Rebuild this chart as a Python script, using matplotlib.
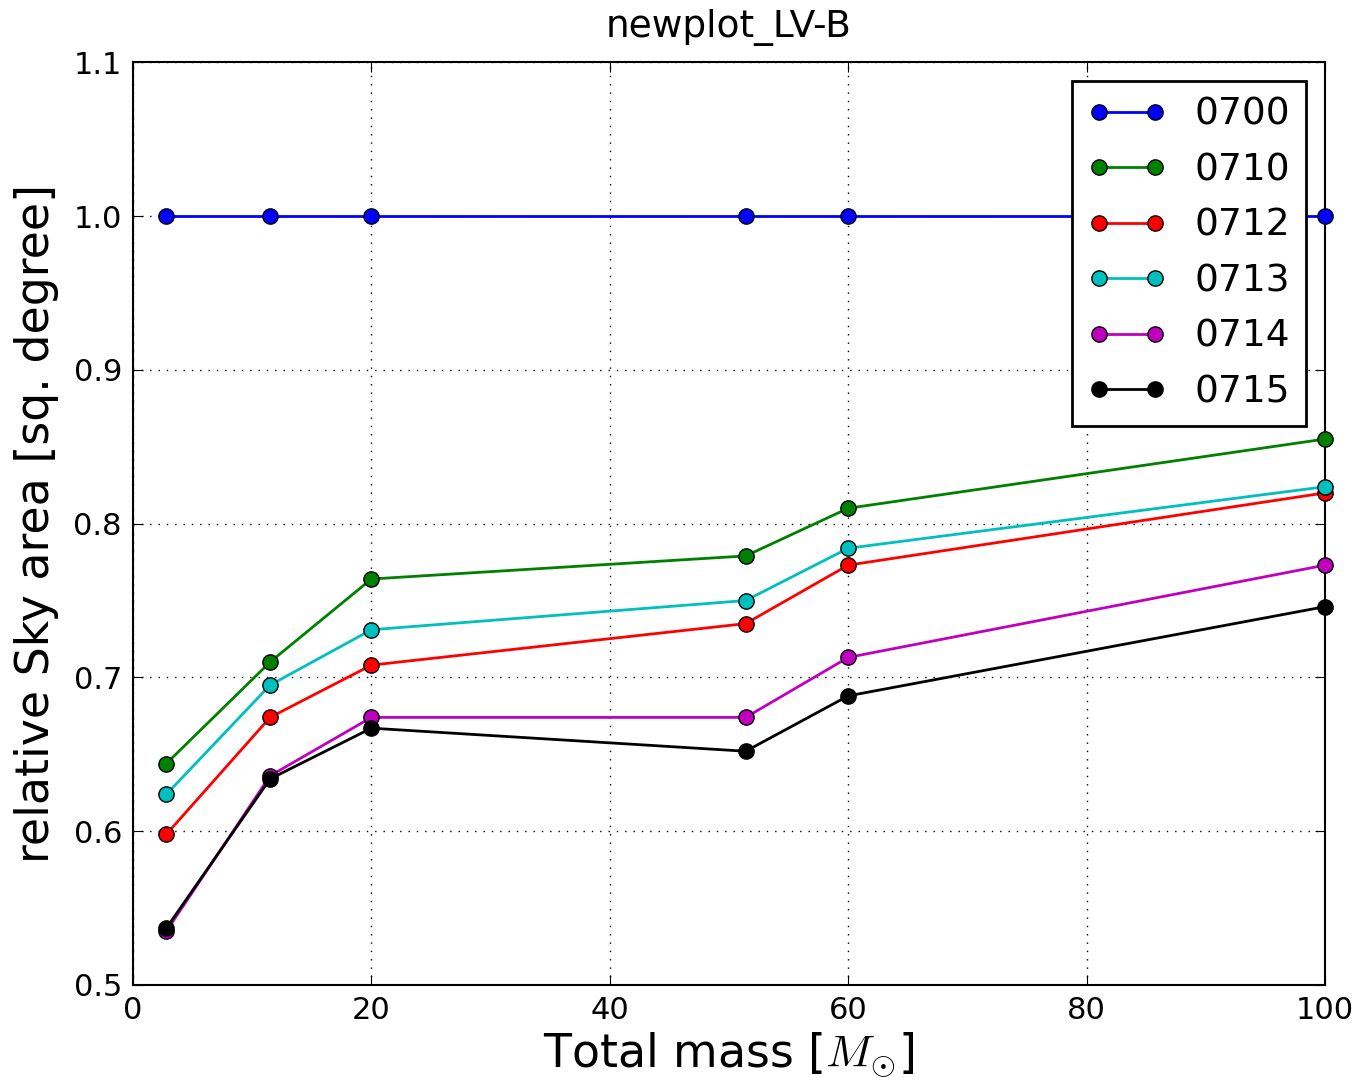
import numpy as np
import matplotlib
matplotlib.use('Agg')
import matplotlib.pyplot as plt

mass = [2.8, 11.5, 20.0, 51.4, 60.0, 100.0]
labels = ['0700', '0710', '0712', '0713', '0714', '0715']
colors = ['b', 'g', 'r', 'c', 'm', 'k']

area_0700 = [1.0, 1.0, 1.0, 1.0, 1.0, 1.0]
area_0710 = [0.644, 0.710, 0.764, 0.779, 0.810, 0.855]
area_0712 = [0.598, 0.674, 0.708, 0.735, 0.773, 0.820]
area_0713 = [0.624, 0.695, 0.731, 0.750, 0.784, 0.824]
area_0714 = [0.535, 0.636, 0.674, 0.674, 0.713, 0.773]
area_0715 = [0.537, 0.634, 0.667, 0.652, 0.688, 0.746]
series = [area_0700, area_0710, area_0712, area_0713, area_0714, area_0715]

plt.rcParams['xtick.direction'] = 'in'
plt.rcParams['ytick.direction'] = 'in'
plt.rcParams['mathtext.fontset'] = 'cm'

fig = plt.figure(figsize=(13.53, 10.83), dpi=100)
ax = fig.add_axes([0.0983, 0.0905, 0.881, 0.852])

for vals, lab, col in zip(series, labels, colors):
    ax.plot(mass, vals, '-o', color=col, label=lab, lw=2, ms=11,
            markeredgecolor='k', markeredgewidth=1, clip_on=False, zorder=3)

ax.set_xlim(0, 100)
ax.set_ylim(0.5, 1.1)
ax.set_yticks(np.arange(0.5, 1.11, 0.1))
ax.grid(True, color='k', linestyle=(0, (1, 5)), linewidth=1)
ax.tick_params(labelsize=22, length=7, top=True, right=True, pad=8)
for s in ax.spines.values():
    s.set_linewidth(1.5)

ax.set_xlabel(r'Total mass [$M_{\odot}$]', fontsize=33, labelpad=4)
ax.set_ylabel('relative Sky area [sq. degree]', fontsize=33, labelpad=10)
ax.set_title('newplot_LV-B', fontsize=27, pad=18)

leg = ax.legend(loc='upper right', fontsize=27, numpoints=2, fancybox=False,
                framealpha=1, borderpad=0.42, handlelength=2.1, handletextpad=0.75,
                labelspacing=0.52, borderaxespad=0.5)
leg.get_frame().set_edgecolor('k')
leg.get_frame().set_linewidth(2)

fig.savefig('out.png', dpi=100)
